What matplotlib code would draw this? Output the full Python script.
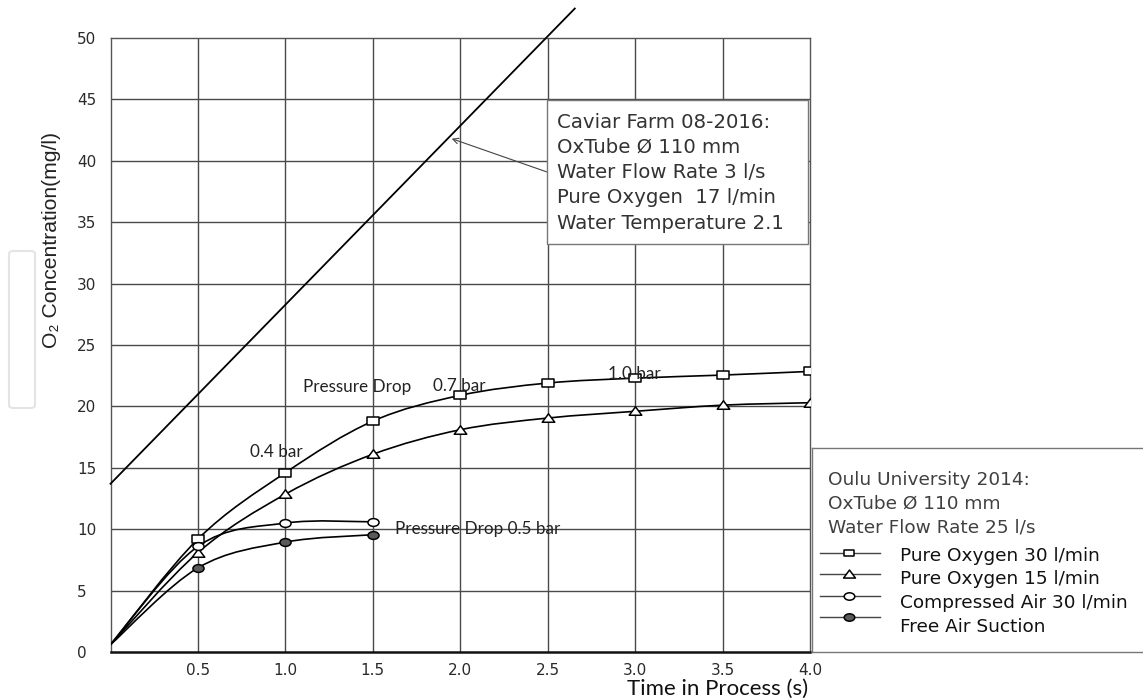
import numpy as np
import matplotlib
matplotlib.use('Agg')
import matplotlib.pyplot as plt
from matplotlib.path import Path
from matplotlib.patches import PathPatch, FancyBboxPatch, Rectangle
from matplotlib.lines import Line2D

# ---------------- data ----------------
time_s = [0.0, 0.5, 1.0, 1.5, 2.0, 2.5, 3.0, 3.5, 4.0]
pure_o2_30 = [0.6, 9.2, 14.6, 18.8, 20.9, 21.9, 22.3, 22.55, 22.85]
pure_o2_15 = [0.6, 8.1, 12.85, 16.1, 18.1, 19.05, 19.6, 20.1, 20.3]
time_short = [0.0, 0.5, 1.0, 1.5]
compressed_air_30 = [0.6, 8.6, 10.5, 10.6]
free_air_suction = [0.6, 6.85, 8.95, 9.55]
caviar_x = [0.0, 2.655]
caviar_y = [13.7, 52.4]

x_ticks = [0.5, 1.0, 1.5, 2.0, 2.5, 3.0, 3.5, 4.0]
x_tick_labels = ['0.5', '1.0', '1.5', '2.0', '2.5', '3.0', '3.5', '4.0']
y_ticks = [0, 5, 10, 15, 20, 25, 30, 35, 40, 45, 50]
y_tick_labels = [str(v) for v in y_ticks]

series_labels = ['Pure Oxygen 30 l/min', 'Pure Oxygen 15 l/min',
                 'Compressed Air 30 l/min', 'Free Air Suction']
oulu_header = ['Oulu University 2014:', 'OxTube Ø 110 mm', 'Water Flow Rate 25 l/s']
caviar_header = ['Caviar Farm 08-2016:', 'OxTube Ø 110 mm', 'Water Flow Rate 3 l/s',
                 'Pure Oxygen  17 l/min', 'Water Temperature 2.1']

# ---------------- figure ----------------
plt.rcParams['font.family'] = ['DejaVu Sans']
W, H = 1143, 700
fig = plt.figure(figsize=(W / 100, H / 100), dpi=100)
def fx(p): return p / W
def fy(p): return 1 - p / H

ax = fig.add_axes([fx(110.5), fy(652), fx(810) - fx(110.5), fy(38) - fy(652)])
ax.set_xlim(0, 4.0)
ax.set_ylim(0, 50)

# grid
for v in x_ticks[:-1]:
    ax.axvline(v, color='#4a4a4a', lw=1.0, zorder=1)
for v in y_ticks[1:-1]:
    ax.axhline(v, color='#4a4a4a', lw=1.0, zorder=1)

for s in ['left', 'top', 'right']:
    ax.spines[s].set_color('#555555')
    ax.spines[s].set_linewidth(1.0)
ax.spines['bottom'].set_color('#111111')
ax.spines['bottom'].set_linewidth(1.8)

tick_font = {'family': 'DejaVu Sans', 'size': 11, 'color': '#2a2a2a'}
ax.set_xticks(x_ticks)
ax.set_xticklabels(x_tick_labels, fontdict=tick_font)
ax.set_yticks(y_ticks)
ax.set_yticklabels(y_tick_labels, fontdict=tick_font, ha='left')
ax.tick_params(axis='both', length=0)
ax.tick_params(axis='x', pad=8)
ax.tick_params(axis='y', pad=24)

# marker shapes (horizontally stretched as in the reference)
rect_marker = Path([(-1, -0.66), (1, -0.66), (1, 0.66), (-1, 0.66), (-1, -0.66)],
                   [Path.MOVETO, Path.LINETO, Path.LINETO, Path.LINETO, Path.CLOSEPOLY])
tri_marker = Path([(-1, -0.6), (1, -0.6), (0, 0.75), (-1, -0.6)],
                  [Path.MOVETO, Path.LINETO, Path.LINETO, Path.CLOSEPOLY])
uc = Path.unit_circle()
ell_marker = Path(uc.vertices * np.array([1.0, 0.7]), uc.codes)


def smooth_path(xs, ys):
    pts = np.column_stack([xs, ys]).astype(float)
    n = len(pts)
    verts = [pts[0]]
    codes = [Path.MOVETO]
    for i in range(n - 1):
        p0 = pts[i - 1] if i > 0 else pts[i]
        p1 = pts[i]
        p2 = pts[i + 1]
        p3 = pts[i + 2] if i + 2 < n else pts[i + 1]
        c1 = p1 + (p2 - p0) / 6.0
        c2 = p2 - (p3 - p1) / 6.0
        verts += [c1, c2, p2]
        codes += [Path.CURVE4] * 3
    return Path(np.array(verts), codes)


series = [
    (time_s, pure_o2_30, rect_marker, 'white', 8),
    (time_s, pure_o2_15, tri_marker, 'white', 9),
    (time_short, compressed_air_30, ell_marker, 'white', 8),
    (time_short, free_air_suction, ell_marker, '#5a5a5a', 8),
]
for xs, ys, mk, fc, ms in series:
    ax.add_patch(PathPatch(smooth_path(xs, ys), transform=ax.transData,
                           fill=False, edgecolor='black', lw=1.2, zorder=3))
    ax.plot(xs[1:], ys[1:], linestyle='none', marker=mk, markersize=ms,
            markerfacecolor=fc, markeredgecolor='black', markeredgewidth=1.1,
            zorder=4)

# caviar farm line
ax.plot(caviar_x, caviar_y, color='black', lw=1.3, clip_on=False, zorder=3)

# annotation arrow
ax.annotate('', xy=(1.951, 41.8), xytext=(2.494, 39.1),
            arrowprops=dict(arrowstyle='->', color='#444444', lw=0.8,
                            shrinkA=0, shrinkB=0), zorder=6)

# pressure drop texts
ann_font = dict(family='Lato', fontsize=12.3, color='#222222', va='center', ha='left', zorder=5)
ax.text(1.10, 21.6, 'Pressure Drop', **ann_font)
ax.text(1.843, 21.7, '0.7 bar', **ann_font)
ax.text(2.843, 22.65, '1.0 bar', **ann_font)
ax.text(0.80, 16.25, '0.4 bar', **ann_font)
ax.text(1.626, 10.0, 'Pressure Drop 0.5 bar', **ann_font)

# axis labels
fig.text(fx(52), fy(240), 'O\u2082 Concentration(mg/l)', rotation=90,
         ha='center', va='center', fontsize=15.2, color='#222222',
         family=['Liberation Sans', 'DejaVu Sans'])
fig.text(fx(808), fy(689), 'Time in Process (s)', ha='right', va='center',
         fontsize=16, color='#111111', family='Lato')

# caviar box
fig.add_artist(Rectangle((fx(547), fy(244)), fx(808) - fx(547), fy(100) - fy(244),
                         transform=fig.transFigure, facecolor='white',
                         edgecolor='#777777', lw=1.0, zorder=5))
for i, t in enumerate(caviar_header):
    fig.text(fx(557), fy(122 + i * 25.3), t, ha='left', va='center', fontsize=14.2,
             color='#333333', family='DejaVu Sans', zorder=6)

# Oulu legend box (open to the right)
box_col = '#777777'
fig.add_artist(Line2D([fx(812), 1.0], [fy(448), fy(448)], color=box_col, lw=1.0))
fig.add_artist(Line2D([fx(812), 1.0], [fy(652), fy(652)], color=box_col, lw=1.0))
fig.add_artist(Line2D([fx(812), fx(812)], [fy(448), fy(652)], color=box_col, lw=1.0))
for i, t in enumerate(oulu_header):
    fig.text(fx(828), fy(480 + i * 23.5), t, ha='left', va='center', fontsize=13.3,
             color='#404040', family='DejaVu Sans')
leg_y = [553, 574, 596, 617]
txt_y = [556, 579, 603, 627]
for (xs, ys, mk, fc, ms), ly, tyy, lab in zip(series, leg_y, txt_y, series_labels):
    fig.add_artist(Line2D([fx(820), fx(880)], [fy(ly), fy(ly)], color='#444444', lw=1.0))
    fig.add_artist(Line2D([fx(849)], [fy(ly)], linestyle='none', marker=mk,
                          markersize=ms * 0.95, markerfacecolor=fc,
                          markeredgecolor='black', markeredgewidth=1.1))
    fig.text(fx(900), fy(tyy), lab, ha='left', va='center', fontsize=13.3,
             color='#111111', family='DejaVu Sans')

# faint side artifact
fig.add_artist(FancyBboxPatch((fx(9), fy(408)), fx(35) - fx(9), fy(251) - fy(408),
                              boxstyle='round,pad=0,rounding_size=0.004',
                              transform=fig.transFigure, facecolor='none',
                              edgecolor='#e4e4e4', lw=1.5))

fig.savefig('out.png', dpi=100)
